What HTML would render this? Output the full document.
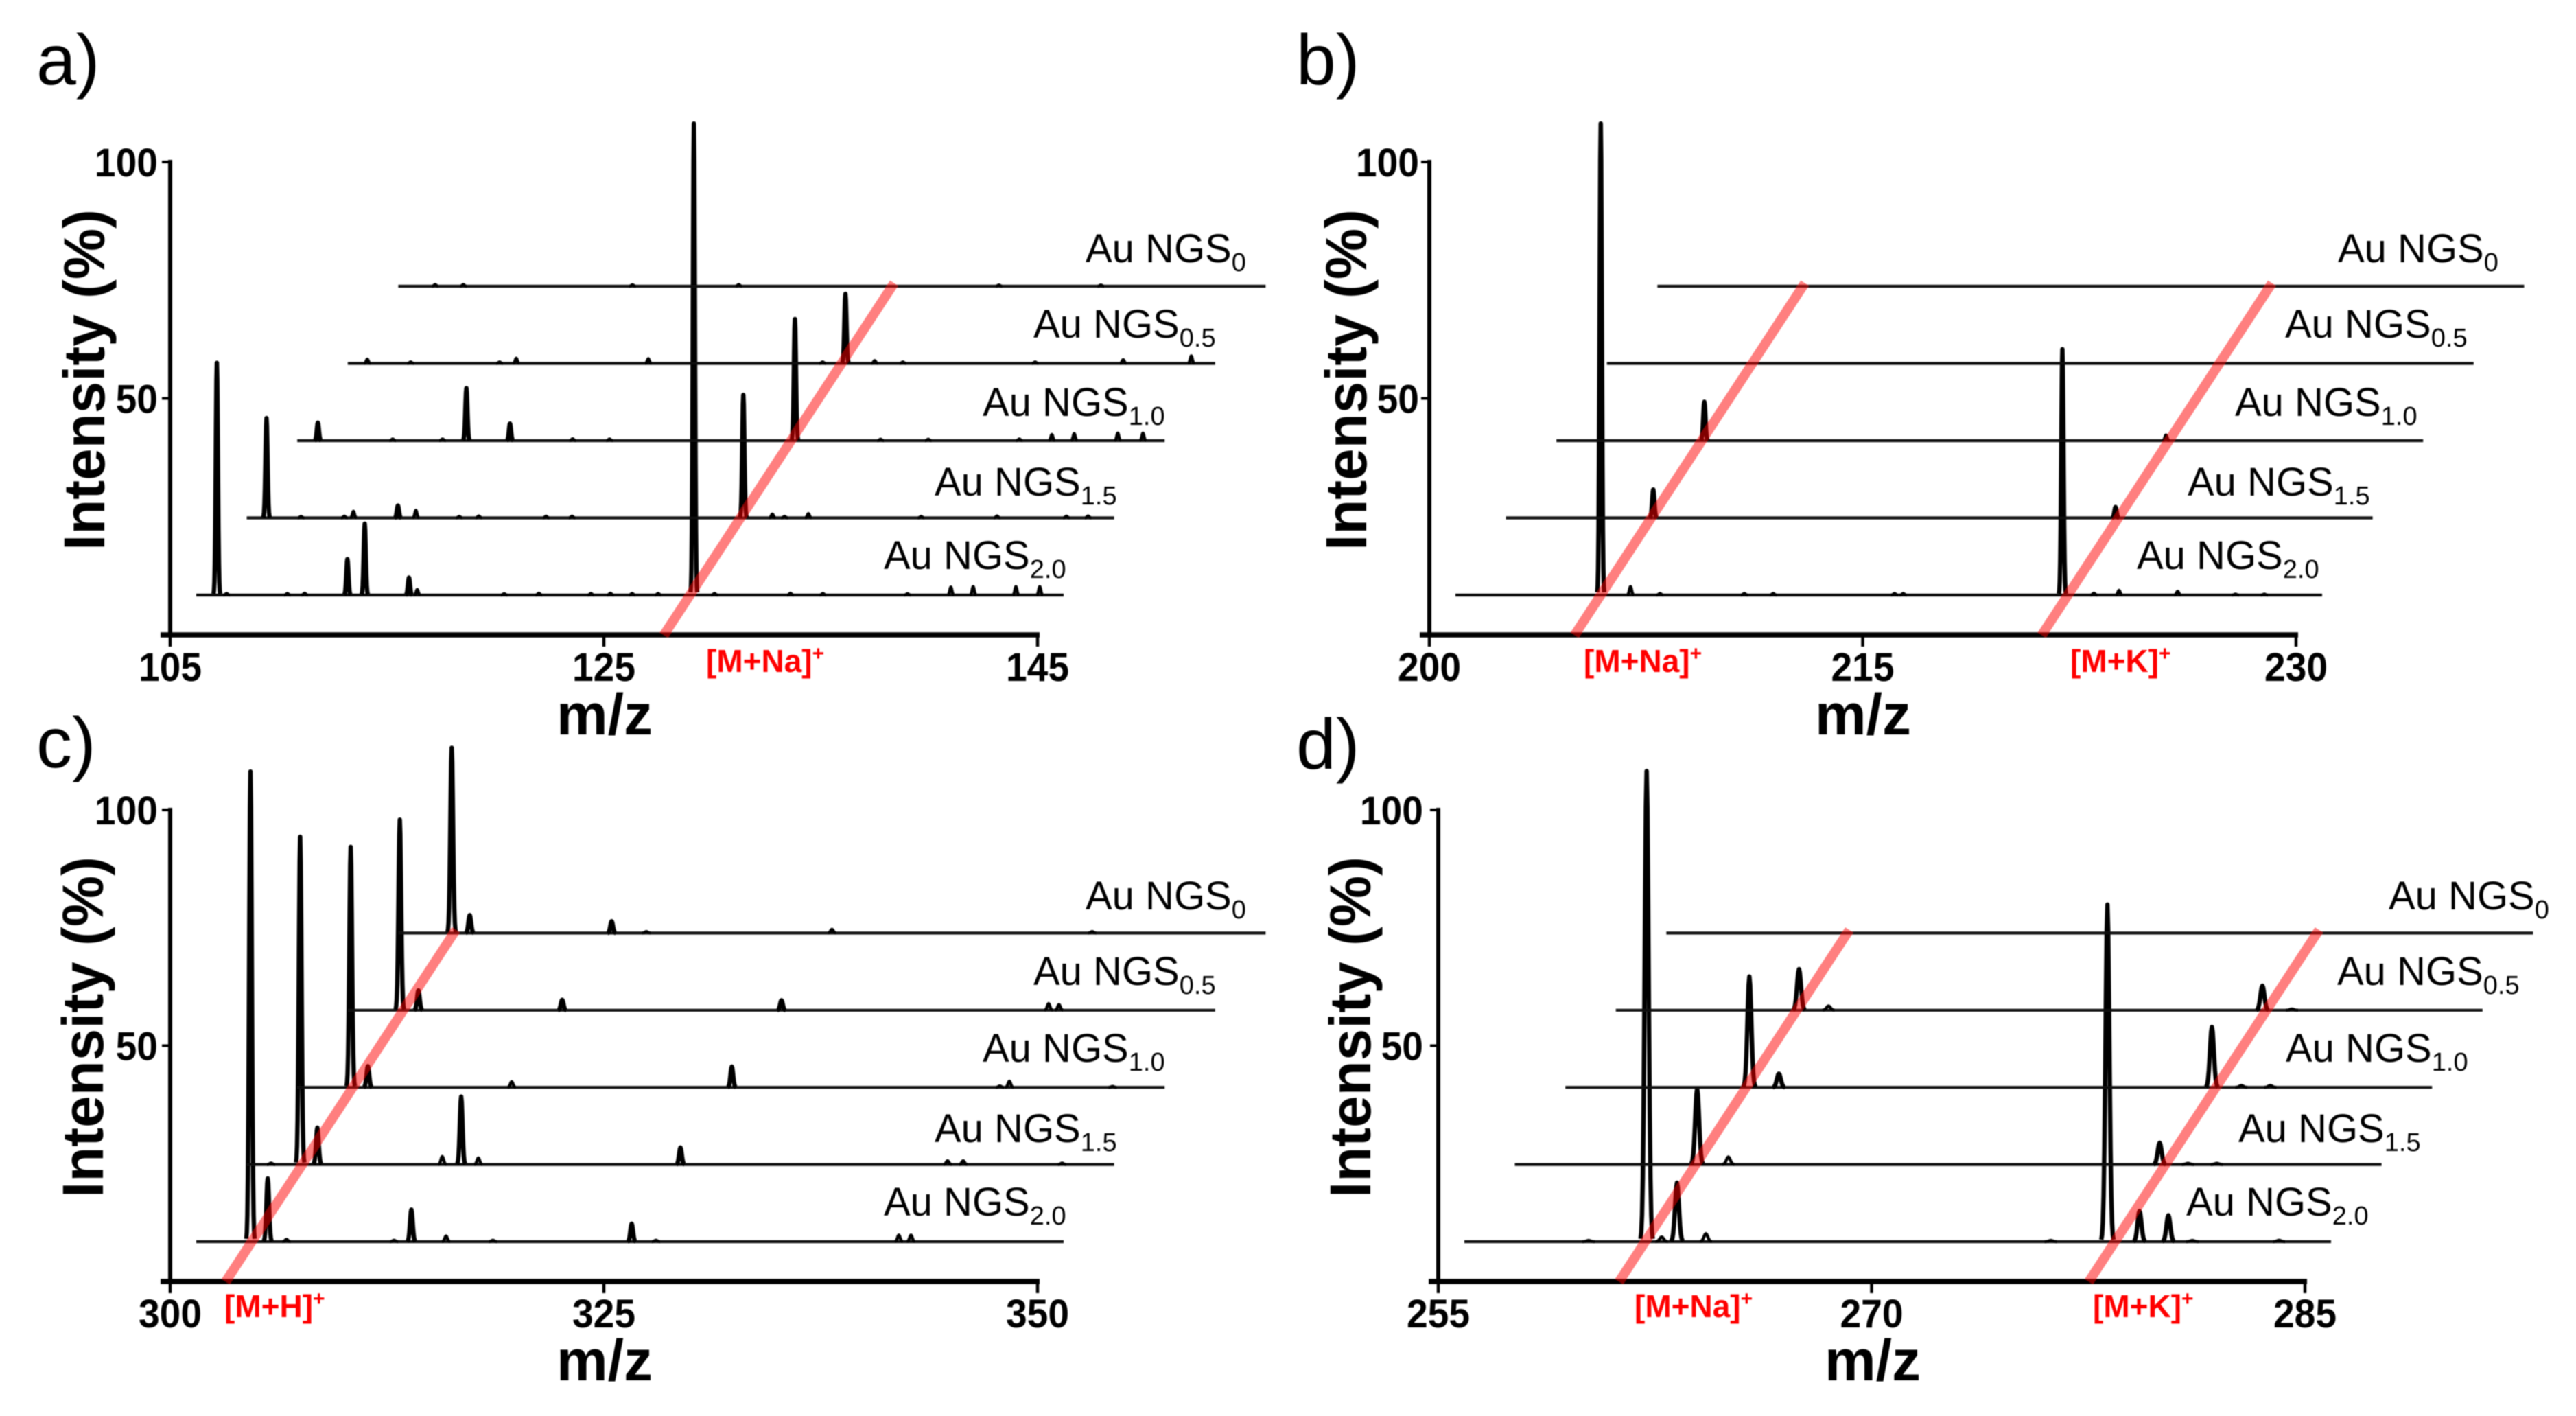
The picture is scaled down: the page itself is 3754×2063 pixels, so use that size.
<!DOCTYPE html>
<html lang="en">
<head>
<meta charset="utf-8">
<title>Mass spectra of Au NGS substrates</title>
<style>
html,body{margin:0;padding:0;background:#fff;}
svg{display:block;}
text{font-family:"Liberation Sans",Arial,sans-serif;fill:#000;}
.panel-letter{font-size:104px;}
.y-title{font-size:84px;font-weight:bold;}
.x-title{font-size:84px;font-weight:bold;text-anchor:middle;}
.series-label{font-size:58px;}
.marker-label{font-size:46px;font-weight:bold;fill:#f00;}
.tick{font-size:58px;font-weight:bold;}
</style>
</head>
<body>
<svg xmlns="http://www.w3.org/2000/svg" width="3754" height="2063" viewBox="0 0 3754 2063">
<defs><filter id="soft" x="0" y="0" width="100%" height="100%" filterUnits="objectBoundingBox"><feGaussianBlur stdDeviation="0.8"/></filter></defs>
<rect width="3754" height="2063" fill="#fff"/>
<g id="root" filter="url(#soft)">

<g id="panel-a">
<text class="panel-letter" x="53" y="123">a)</text>
<text class="y-title" transform="translate(152,802) rotate(-90)" textLength="497" lengthAdjust="spacingAndGlyphs">Intensity (%)</text>
<text class="x-title" x="881" y="1070">m/z</text>
<text class="series-label" x="1582" y="382">Au NGS<tspan font-size="38" dy="13">0</tspan></text>
<text class="series-label" x="1506" y="492">Au NGS<tspan font-size="38" dy="13">0.5</tspan></text>
<text class="series-label" x="1432" y="606">Au NGS<tspan font-size="38" dy="13">1.0</tspan></text>
<text class="series-label" x="1362" y="722">Au NGS<tspan font-size="38" dy="13">1.5</tspan></text>
<text class="series-label" x="1288" y="829">Au NGS<tspan font-size="38" dy="13">2.0</tspan></text>
<text class="marker-label" x="1029" y="979">[M+Na]<tspan font-size="30" dy="-17">+</tspan></text>
</g>

<g id="panel-b">
<text class="panel-letter" x="1889" y="123">b)</text>
<text class="y-title" transform="translate(1991,802) rotate(-90)" textLength="497" lengthAdjust="spacingAndGlyphs">Intensity (%)</text>
<text class="x-title" x="2715" y="1070">m/z</text>
<text class="series-label" x="3407" y="382">Au NGS<tspan font-size="38" dy="13">0</tspan></text>
<text class="series-label" x="3330" y="492">Au NGS<tspan font-size="38" dy="13">0.5</tspan></text>
<text class="series-label" x="3257" y="606">Au NGS<tspan font-size="38" dy="13">1.0</tspan></text>
<text class="series-label" x="3188" y="722">Au NGS<tspan font-size="38" dy="13">1.5</tspan></text>
<text class="series-label" x="3114" y="829">Au NGS<tspan font-size="38" dy="13">2.0</tspan></text>
<text class="marker-label" x="2308" y="979">[M+Na]<tspan font-size="30" dy="-17">+</tspan></text>
<text class="marker-label" x="3017" y="979">[M+K]<tspan font-size="30" dy="-17">+</tspan></text>
</g>

<g id="panel-c">
<text class="panel-letter" x="53" y="1118">c)</text>
<text class="y-title" transform="translate(150,1745) rotate(-90)" textLength="497" lengthAdjust="spacingAndGlyphs">Intensity (%)</text>
<text class="x-title" x="881" y="2011">m/z</text>
<text class="series-label" x="1582" y="1325">Au NGS<tspan font-size="38" dy="13">0</tspan></text>
<text class="series-label" x="1506" y="1435">Au NGS<tspan font-size="38" dy="13">0.5</tspan></text>
<text class="series-label" x="1432" y="1547">Au NGS<tspan font-size="38" dy="13">1.0</tspan></text>
<text class="series-label" x="1362" y="1664">Au NGS<tspan font-size="38" dy="13">1.5</tspan></text>
<text class="series-label" x="1288" y="1771">Au NGS<tspan font-size="38" dy="13">2.0</tspan></text>
<text class="marker-label" x="327" y="1919">[M+H]<tspan font-size="30" dy="-17">+</tspan></text>
</g>

<g id="panel-d">
<text class="panel-letter" x="1889" y="1120">d)</text>
<text class="y-title" transform="translate(1997,1745) rotate(-90)" textLength="497" lengthAdjust="spacingAndGlyphs">Intensity (%)</text>
<text class="x-title" x="2729" y="2011">m/z</text>
<text class="series-label" x="3481" y="1325">Au NGS<tspan font-size="38" dy="13">0</tspan></text>
<text class="series-label" x="3406" y="1435">Au NGS<tspan font-size="38" dy="13">0.5</tspan></text>
<text class="series-label" x="3331" y="1547">Au NGS<tspan font-size="38" dy="13">1.0</tspan></text>
<text class="series-label" x="3262" y="1664">Au NGS<tspan font-size="38" dy="13">1.5</tspan></text>
<text class="series-label" x="3186" y="1771">Au NGS<tspan font-size="38" dy="13">2.0</tspan></text>
<text class="marker-label" x="2382" y="1919">[M+Na]<tspan font-size="30" dy="-17">+</tspan></text>
<text class="marker-label" x="3050" y="1919">[M+K]<tspan font-size="30" dy="-17">+</tspan></text>
</g>

</g>
</svg>
<script>
// Series order in every panel: front (bottom) to back (top)
const seriesNames = ['ngs-2-0', 'ngs-1-5', 'ngs-1-0', 'ngs-0-5', 'ngs-0'];
const yTickValues = [50, 100];

// Panel a
const aXTicks = [105, 125, 145];
const aMarkerMz = [127.77];
const aPeakMz = [
  [105.95,111.97,112.77,114.81,115.19,127.95,139.8,140.83,142.8,143.9,106.4,109.2,110,119.2,120.8,123.2,124.1,125.1,126.3,128.9,132.4,133.9,137.8],
  [105.91,109.92,111.97,112.8,127.9,129.24,130.9,107.5,109.5,114.8,115.7,118.8,120,129.8,136.1,139.6,142.8,143.8],
  [105.95,112.8,114.81,127.95,139.8,140.83,142.84,144,109.4,111.7,117.7,119.4,138.3,131.9,134.1],
  [105.9,112.77,118.86,127.95,129.3,140.76,143.9,107.9,112,126.9,136.7,130.6],
  [106.7,108,115.8,120.7,132.7,137.4]
];
const aPeakHeight = [
  [49.1,7.6,15.1,3.7,1.2,99.7,1.7,1.8,1.8,1.8,0.35,0.35,0.4,0.3,0.4,0.35,0.4,0.35,0.35,0.35,0.4,0.35,0.3],
  [21.1,1.4,2.6,1.6,26,0.8,0.9,0.3,0.35,0.3,0.4,0.35,0.35,0.3,0.3,0.4,0.35,0.4],
  [3.8,11.1,3.6,25.7,1.3,1.5,1.6,1.6,0.35,0.35,0.4,0.35,0.35,0.3,0.3],
  [0.9,1.1,1,14.7,0.6,0.8,1.6,0.3,0.3,0.3,0.3,0.3],
  [0.35,0.35,0.3,0.35,0.25,0.25]
];

// Panel b
const bXTicks = [200, 215, 230];
const bMarkerMz = [205.03, 221.2];
const bPeakMz = [
  [205.03,206.06,221.01,222.97,225,207.08,210,211,215.2,215.5,222.1,227,228],
  [205.1,221.1],
  [205.12,221.1],
  [],
  []
];
const bPeakHeight = [
  [99.7,1.8,52,1,0.8,0.35,0.35,0.35,0.35,0.35,0.4,0.2,0.2],
  [6,2.3],
  [8.2,1.2],
  [],
  []
];

// Panel c
const cXTicks = [300, 325, 350];
const cMarkerMz = [303.2];
const cPeakMz = [
  [303.125,304.12,305.2,311.4,312.4,314.4,317.1,325.1,326.5,340.5,341.2],
  [301.4,303.08,304.07,311.27,312.36,313.35,325,340.4,341.3,347],
  [303.08,304.07,312.36,325.05,340.5,341.05,347],
  [303,304.07,312.36,325,340.4,341],
  [303.08,304.12,312.3,314.3,325,340]
];
const cPeakHeight = [
  [99.7,13.4,0.5,0.3,6.8,1.2,0.3,3.8,0.3,1.4,1.4],
  [0.3,69.5,7.8,1.7,14.4,1.4,3.6,0.8,0.8,0.3],
  [51,4.5,1.2,4.4,0.3,1.3,0.2],
  [40.4,4.2,2.2,2.1,1.4,1.2],
  [39.3,3.8,2.5,0.3,0.8,0.3]
];

// Panel d
const dXTicks = [255, 270, 285];
const dMarkerMz = [261.26, 277.52];
const dPeakMz = [
  [261.31,261.83,262.36,263.36,277.26,278.37,279.37,259.3,275.3,280.2,283.2],
  [261.31,262.39,277.32,278.3,279.3],
  [261.37,262.39,277.38,278.4,279.4],
  [261.34,262.36,277.38,278.4],
  []
];
const dPeakHeight = [
  [99.8,1,12.5,1.7,71.5,6.5,5.6,0.25,0.25,0.25,0.3],
  [16.1,1.6,4.6,0.25,0.25],
  [23.5,2.9,12.8,0.4,0.4],
  [8.7,0.9,5.2,0.25],
  []
];

const svgNS = 'http://www.w3.org/2000/svg';

function makeNode(parent, tag) {
  const el = document.createElementNS(svgNS, tag);
  parent.appendChild(el);
  return el;
}

function drawPanel(key, layout, xTicks, markerMz, peakMz, peakHeight) {
  const host = document.getElementById('panel-' + key);
  const xAxis = mz => layout.left + (mz - layout.xMin) / (layout.xMax - layout.xMin) * (layout.right - layout.left);
  const yAxis = v => layout.zero - v * layout.unit;
  const seriesX = (mz, i) => xAxis(mz) + layout.firstDx + i * layout.stepDx;
  const seriesBase = i => layout.zero - layout.firstDy - i * layout.stepDy;

  // Series traces
  seriesNames.forEach((name, i) => {
    const base = makeNode(host, 'line');
    
    
    base.setAttribute('x1', seriesX(layout.xMin, i));
    base.setAttribute('x2', seriesX(layout.xMax, i));
    base.setAttribute('y1', seriesBase(i));
    base.setAttribute('y2', seriesBase(i));
    base.setAttribute('stroke', '#111');
    base.setAttribute('stroke-width', '4.2');

    peakMz[i].forEach((mz, j) => {
      const h = peakHeight[i][j] * layout.unit;
      const cx = seriesX(mz, i);
      const by = seriesBase(i);
      let d = '';
      for (let t = -3.2; t <= 3.2001; t += 0.4) {
        const px = cx + t * layout.sigma;
        const py = by - h * Math.exp(-t * t / 2);
        d += (d ? 'L' : 'M') + px.toFixed(2) + ' ' + py.toFixed(2);
      }
      const peak = makeNode(host, 'path');
      
      
      peak.setAttribute('d', d);
      peak.setAttribute('fill', 'none');
      peak.setAttribute('stroke', '#000');
      peak.setAttribute('stroke-width', peakHeight[i][j] < 2 ? '4.5' : '6.4');
      peak.setAttribute('stroke-linejoin', 'round');
    });
  });

  // Axes
  const yLine = makeNode(host, 'line');
  
  
  yLine.setAttribute('x1', layout.left);
  yLine.setAttribute('x2', layout.left);
  yLine.setAttribute('y1', yAxis(100) - 3);
  yLine.setAttribute('y2', layout.zero);
  yLine.setAttribute('stroke', '#000');
  yLine.setAttribute('stroke-width', '6');

  const xLine = makeNode(host, 'line');
  
  
  xLine.setAttribute('x1', layout.left - 14);
  xLine.setAttribute('x2', layout.right + 3);
  xLine.setAttribute('y1', layout.zero);
  xLine.setAttribute('y2', layout.zero);
  xLine.setAttribute('stroke', '#000');
  xLine.setAttribute('stroke-width', '7.5');

  yTickValues.forEach(v => {
    const tick = makeNode(host, 'line');
    
    
    tick.setAttribute('x1', layout.left - 12);
    tick.setAttribute('x2', layout.left);
    tick.setAttribute('y1', yAxis(v));
    tick.setAttribute('y2', yAxis(v));
    tick.setAttribute('stroke', '#000');
    tick.setAttribute('stroke-width', '4');

    const label = makeNode(host, 'text');
    
    
    label.setAttribute('class', 'tick');
    label.setAttribute('text-anchor', 'end');
    label.setAttribute('x', layout.left - layout.yLabelGap);
    label.setAttribute('y', yAxis(v) + 21);
    label.setAttribute('textLength', String(v).length * 30.7);
    label.setAttribute('lengthAdjust', 'spacingAndGlyphs');
    label.textContent = String(v);
  });

  xTicks.forEach(v => {
    const tick = makeNode(host, 'line');
    
    
    tick.setAttribute('x1', xAxis(v));
    tick.setAttribute('x2', xAxis(v));
    tick.setAttribute('y1', layout.zero);
    tick.setAttribute('y2', layout.zero + 17);
    tick.setAttribute('stroke', '#000');
    tick.setAttribute('stroke-width', '4.5');

    const label = makeNode(host, 'text');
    
    
    label.setAttribute('class', 'tick');
    label.setAttribute('text-anchor', 'middle');
    label.setAttribute('x', xAxis(v));
    label.setAttribute('y', layout.zero + 67);
    label.setAttribute('textLength', String(v).length * 30.7);
    label.setAttribute('lengthAdjust', 'spacingAndGlyphs');
    label.textContent = String(v);
  });

  // Red ion guide lines, running through the same m/z on every trace
  markerMz.forEach(mz => {
    const guide = makeNode(host, 'line');
    
    
    guide.setAttribute('x1', xAxis(mz));
    guide.setAttribute('y1', layout.zero);
    guide.setAttribute('x2', seriesX(mz, seriesNames.length - 1) + 3);
    guide.setAttribute('y2', seriesBase(seriesNames.length - 1) - 4.5);
    guide.setAttribute('stroke', '#ff0000');
    guide.setAttribute('stroke-opacity', '0.5');
    guide.setAttribute('stroke-width', '14');
  });
}

const topRow = { zero: 925, unit: 6.89, firstDx: 38, stepDx: 73.6, firstDy: 58, stepDy: 112.5 };
const lowRow = { zero: 1867, unit: 6.87, firstDx: 38, stepDx: 73.6, firstDy: 58, stepDy: 112.4 };

drawPanel('a', Object.assign({ left: 248, right: 1512, xMin: 105, xMax: 145, sigma: 1.5, yLabelGap: 18 }, topRow), aXTicks, aMarkerMz, aPeakMz, aPeakHeight);
drawPanel('b', Object.assign({ left: 2083, right: 3346, xMin: 200, xMax: 230, sigma: 1.6, yLabelGap: 15 }, topRow), bXTicks, bMarkerMz, bPeakMz, bPeakHeight);
drawPanel('c', Object.assign({ left: 248, right: 1512, xMin: 300, xMax: 350, sigma: 1.9, yLabelGap: 18 }, lowRow), cXTicks, cMarkerMz, cPeakMz, cPeakHeight);
drawPanel('d', Object.assign({ left: 2096, right: 3359, xMin: 255, xMax: 285, sigma: 2.8, yLabelGap: 22 }, lowRow), dXTicks, dMarkerMz, dPeakMz, dPeakHeight);
</script>
</body>
</html>
